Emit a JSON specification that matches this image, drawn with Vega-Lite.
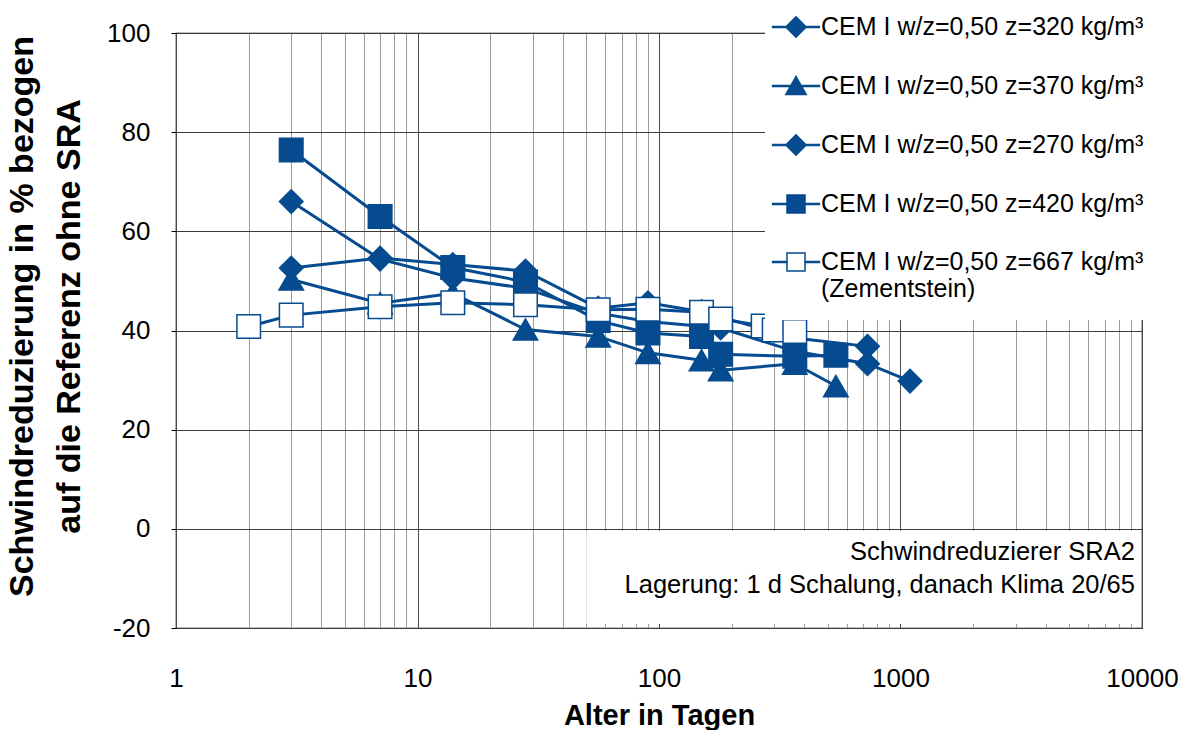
{
  "$schema": "https://vega.github.io/schema/vega-lite/v6.json",
  "width": 966,
  "height": 595,
  "autosize": {"type": "none"},
  "padding": {"left": 176, "top": 33, "right": 50, "bottom": 102},
  "background": "white",
  "config": {"font": "Liberation Sans", "view": {"stroke": "#000000", "strokeWidth": 1.2}},
  "data": {"values": [
    {"s": "CEM I w/z=0,50 z=320 kg/m³", "age": 3, "v": 52.6},
    {"s": "CEM I w/z=0,50 z=320 kg/m³", "age": 7, "v": 54.6},
    {"s": "CEM I w/z=0,50 z=320 kg/m³", "age": 14, "v": 53.3},
    {"s": "CEM I w/z=0,50 z=320 kg/m³", "age": 28, "v": 52.0},
    {"s": "CEM I w/z=0,50 z=320 kg/m³", "age": 56, "v": 44.5},
    {"s": "CEM I w/z=0,50 z=320 kg/m³", "age": 90, "v": 45.6},
    {"s": "CEM I w/z=0,50 z=320 kg/m³", "age": 150, "v": 43.8},
    {"s": "CEM I w/z=0,50 z=320 kg/m³", "age": 365, "v": 38.5},
    {"s": "CEM I w/z=0,50 z=320 kg/m³", "age": 730, "v": 36.8},
    {"s": "CEM I w/z=0,50 z=370 kg/m³", "age": 3, "v": 50.3},
    {"s": "CEM I w/z=0,50 z=370 kg/m³", "age": 7, "v": 45.5},
    {"s": "CEM I w/z=0,50 z=370 kg/m³", "age": 14, "v": 47.5},
    {"s": "CEM I w/z=0,50 z=370 kg/m³", "age": 28, "v": 40.2},
    {"s": "CEM I w/z=0,50 z=370 kg/m³", "age": 56, "v": 38.8},
    {"s": "CEM I w/z=0,50 z=370 kg/m³", "age": 90, "v": 35.5},
    {"s": "CEM I w/z=0,50 z=370 kg/m³", "age": 150, "v": 34.0},
    {"s": "CEM I w/z=0,50 z=370 kg/m³", "age": 180, "v": 32.0},
    {"s": "CEM I w/z=0,50 z=370 kg/m³", "age": 365, "v": 33.3},
    {"s": "CEM I w/z=0,50 z=370 kg/m³", "age": 540, "v": 28.8},
    {"s": "CEM I w/z=0,50 z=270 kg/m³", "age": 3, "v": 66.0},
    {"s": "CEM I w/z=0,50 z=270 kg/m³", "age": 7, "v": 54.4},
    {"s": "CEM I w/z=0,50 z=270 kg/m³", "age": 14, "v": 50.6},
    {"s": "CEM I w/z=0,50 z=270 kg/m³", "age": 28, "v": 48.5},
    {"s": "CEM I w/z=0,50 z=270 kg/m³", "age": 56, "v": 43.5},
    {"s": "CEM I w/z=0,50 z=270 kg/m³", "age": 90, "v": 41.8},
    {"s": "CEM I w/z=0,50 z=270 kg/m³", "age": 180, "v": 40.5},
    {"s": "CEM I w/z=0,50 z=270 kg/m³", "age": 365, "v": 35.8},
    {"s": "CEM I w/z=0,50 z=270 kg/m³", "age": 730, "v": 33.3},
    {"s": "CEM I w/z=0,50 z=270 kg/m³", "age": 1095, "v": 29.8},
    {"s": "CEM I w/z=0,50 z=420 kg/m³", "age": 3, "v": 76.4},
    {"s": "CEM I w/z=0,50 z=420 kg/m³", "age": 7, "v": 63.0},
    {"s": "CEM I w/z=0,50 z=420 kg/m³", "age": 14, "v": 52.7},
    {"s": "CEM I w/z=0,50 z=420 kg/m³", "age": 28, "v": 49.8},
    {"s": "CEM I w/z=0,50 z=420 kg/m³", "age": 56, "v": 42.0},
    {"s": "CEM I w/z=0,50 z=420 kg/m³", "age": 90, "v": 39.5},
    {"s": "CEM I w/z=0,50 z=420 kg/m³", "age": 150, "v": 38.8},
    {"s": "CEM I w/z=0,50 z=420 kg/m³", "age": 180, "v": 35.2},
    {"s": "CEM I w/z=0,50 z=420 kg/m³", "age": 365, "v": 34.8},
    {"s": "CEM I w/z=0,50 z=420 kg/m³", "age": 540, "v": 35.0},
    {"s": "CEM I w/z=0,50 z=667 kg/m³", "age": 2, "v": 40.8},
    {"s": "CEM I w/z=0,50 z=667 kg/m³", "age": 3, "v": 43.1},
    {"s": "CEM I w/z=0,50 z=667 kg/m³", "age": 7, "v": 44.8},
    {"s": "CEM I w/z=0,50 z=667 kg/m³", "age": 14, "v": 45.6},
    {"s": "CEM I w/z=0,50 z=667 kg/m³", "age": 28, "v": 45.2},
    {"s": "CEM I w/z=0,50 z=667 kg/m³", "age": 56, "v": 44.2},
    {"s": "CEM I w/z=0,50 z=667 kg/m³", "age": 90, "v": 44.3},
    {"s": "CEM I w/z=0,50 z=667 kg/m³", "age": 150, "v": 43.7},
    {"s": "CEM I w/z=0,50 z=667 kg/m³", "age": 180, "v": 42.3},
    {"s": "CEM I w/z=0,50 z=667 kg/m³", "age": 270, "v": 40.9},
    {"s": "CEM I w/z=0,50 z=667 kg/m³", "age": 300, "v": 40.1},
    {"s": "CEM I w/z=0,50 z=667 kg/m³", "age": 365, "v": 39.8}
  ]},
  "layer": [
    {
      "data": {"values": [{}]},
      "mark": {"type": "rect", "fill": "white"},
      "encoding": {
        "x": {"datum": 50, "type": "quantitative", "scale": {"type": "log", "domain": [1, 10000]}},
        "x2": {"datum": 9900},
        "y": {"datum": -0.4, "type": "quantitative", "scale": {"domain": [-20, 100]}},
        "y2": {"datum": -19.2}
      }
    },
    {
      "mark": {"type": "point", "filled": true, "opacity": 0, "strokeWidth": 1.5},
      "encoding": {
        "x": {"field": "age", "type": "quantitative"},
        "y": {"field": "v", "type": "quantitative"},
        "shape": {"field": "s", "type": "nominal",
          "scale": {"domain": ["CEM I w/z=0,50 z=320 kg/m³", "CEM I w/z=0,50 z=370 kg/m³", "CEM I w/z=0,50 z=270 kg/m³", "CEM I w/z=0,50 z=420 kg/m³", "CEM I w/z=0,50 z=667 kg/m³"],
                    "range": [
                      "M-1.95,-0.05L1.95,-0.05L1.95,0.05L-1.95,0.05Z M0,-0.85L0.85,0L0,0.85L-0.85,0Z",
                      "M-1.95,-0.05L1.95,-0.05L1.95,0.05L-1.95,0.05Z M0,-0.8L0.85,0.7L-0.85,0.7Z",
                      "M-1.95,-0.05L1.95,-0.05L1.95,0.05L-1.95,0.05Z M0,-0.85L0.85,0L0,0.85L-0.85,0Z",
                      "M-1.95,-0.05L1.95,-0.05L1.95,0.05L-1.95,0.05Z M-0.75,-0.75L0.75,-0.75L0.75,0.75L-0.75,0.75Z",
                      "M-1.95,-0.05L-0.75,-0.05L-0.75,0.05L-1.95,0.05Z M0.75,-0.05L1.95,-0.05L1.95,0.05L0.75,0.05Z M-0.75,-0.75L0.75,-0.75L0.75,0.75L-0.75,0.75Z"
                    ]},
          "legend": {
            "title": null,
            "orient": "none",
            "legendX": 589,
            "legendY": -37,
            "direction": "vertical",
            "fillColor": "white",
            "padding": 18,
            "rowPadding": 32,
            "labelFontSize": 25,
            "labelFont": "Liberation Sans",
            "labelColor": "#000000",
            "labelLimit": 600,
            "labelOffset": 12,
            "symbolSize": 576,
            "symbolOpacity": 1,
            "symbolStrokeWidth": 1.5,
            "labelExpr": "indexof(datum.label, '667') >= 0 ? [datum.label, '(Zementstein)'] : datum.label"
          }
        },
        "fill": {"field": "s", "type": "nominal",
          "scale": {"domain": ["CEM I w/z=0,50 z=320 kg/m³", "CEM I w/z=0,50 z=370 kg/m³", "CEM I w/z=0,50 z=270 kg/m³", "CEM I w/z=0,50 z=420 kg/m³", "CEM I w/z=0,50 z=667 kg/m³"],
                    "range": ["#064b8f", "#064b8f", "#064b8f", "#064b8f", "#ffffff"]}},
        "stroke": {"field": "s", "type": "nominal",
          "scale": {"domain": ["CEM I w/z=0,50 z=320 kg/m³", "CEM I w/z=0,50 z=370 kg/m³", "CEM I w/z=0,50 z=270 kg/m³", "CEM I w/z=0,50 z=420 kg/m³", "CEM I w/z=0,50 z=667 kg/m³"],
                    "range": ["#064b8f", "#064b8f", "#064b8f", "#064b8f", "#064b8f"]}}
      }
    },
    {
      "mark": {"type": "line", "strokeWidth": 3, "color": "#064b8f"},
      "encoding": {
        "x": {"field": "age", "type": "quantitative",
          "scale": {"type": "log", "domain": [1, 10000]},
          "axis": {
            "values": [1,2,3,4,5,6,7,8,9,10,20,30,40,50,60,70,80,90,100,200,300,400,500,600,700,800,900,1000,2000,3000,4000,5000,6000,7000,8000,9000,10000],
            "labelExpr": "(datum.value == 1 || datum.value == 10 || datum.value == 100 || datum.value == 1000 || datum.value == 10000) ? ('' + datum.value) : ''",
            "grid": true,
            "gridColor": {"condition": {"test": "datum.value == 1 || datum.value == 10 || datum.value == 100 || datum.value == 1000 || datum.value == 10000", "value": "#4a4a4a"}, "value": "#9a9a9a"},
            "gridWidth": 1,
            "ticks": false,
            "domain": false,
            "labelFontSize": 26,
            "labelColor": "#000000",
            "labelPadding": 37,
            "labelOverlap": false,
            "labelFlush": false,
            "labelBound": false,
            "title": "Alter in Tagen",
            "titleFontSize": 29,
            "titleFontWeight": "bold",
            "titleColor": "#000000",
            "titlePadding": 10
          }
        },
        "y": {"field": "v", "type": "quantitative",
          "scale": {"domain": [-20, 100]},
          "axis": {
            "values": [-20, 0, 20, 40, 60, 80, 100],
            "labelExpr": "'' + datum.value",
            "grid": true,
            "gridColor": "#3a3a3a",
            "gridWidth": 1,
            "domain": false,
            "tickSize": 5,
            "tickColor": "#000000",
            "labelFontSize": 26,
            "labelColor": "#000000",
            "labelPadding": 21,
            "title": ["Schwindreduzierung in % bezogen", "auf die Referenz ohne SRA"],
            "titleFontSize": 34,
            "titleFontWeight": "bold",
            "titleColor": "#000000",
            "titleLineHeight": 47,
            "titleAngle": 270,
            "titleAlign": "center",
            "titleBaseline": "middle",
            "titleX": -154,
            "titleY": 283
          }
        },
        "detail": {"field": "s", "type": "nominal"}
      }
    },
    {
      "mark": {"type": "point", "filled": true, "opacity": 1, "stroke": "#064b8f", "strokeWidth": 1.5},
      "encoding": {
        "x": {"field": "age", "type": "quantitative"},
        "y": {"field": "v", "type": "quantitative"},
        "shape": {
          "condition": [
            {"test": "indexof(datum.s, '370') >= 0", "value": "triangle-up"},
            {"test": "indexof(datum.s, '420') >= 0 || indexof(datum.s, '667') >= 0", "value": "square"}
          ],
          "value": "diamond"
        },
        "fill": {"condition": {"test": "indexof(datum.s, '667') >= 0", "value": "#ffffff"}, "value": "#064b8f"},
        "size": {"condition": {"test": "indexof(datum.s, '370') >= 0", "value": 600}, "value": 555}
      }
    },
    {
      "data": {"values": [{}]},
      "mark": {"type": "text", "align": "right", "baseline": "middle", "fontSize": 25.5, "color": "#000000", "text": "Schwindreduzierer SRA2"},
      "encoding": {
        "x": {"datum": 9350, "type": "quantitative"},
        "y": {"datum": -4.6, "type": "quantitative"}
      }
    },
    {
      "data": {"values": [{}]},
      "mark": {"type": "text", "align": "right", "baseline": "middle", "fontSize": 25.5, "color": "#000000", "text": "Lagerung: 1 d Schalung, danach Klima 20/65"},
      "encoding": {
        "x": {"datum": 9350, "type": "quantitative"},
        "y": {"datum": -11.3, "type": "quantitative"}
      }
    }
  ]
}
